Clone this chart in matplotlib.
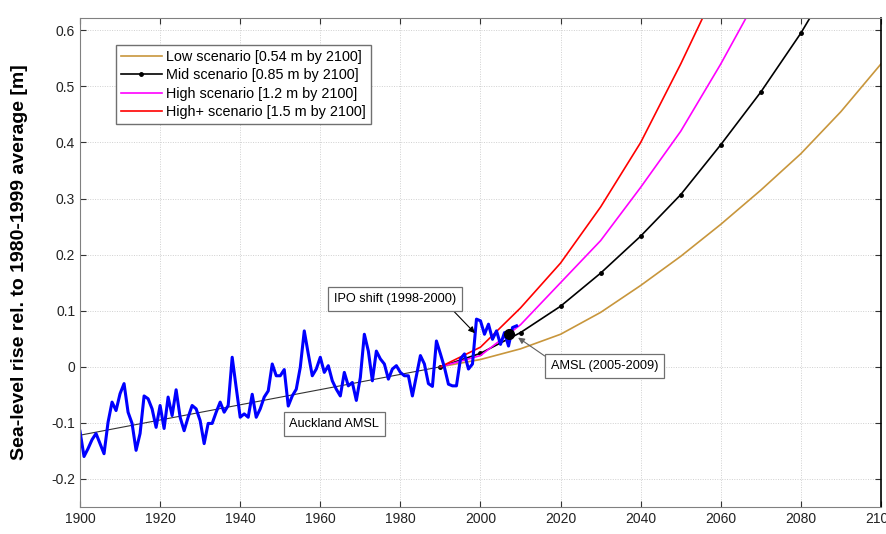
import numpy as np
import matplotlib
matplotlib.use("Agg")
import matplotlib.pyplot as plt

plt.rcParams['font.family'] = ['Liberation Sans', 'DejaVu Sans']

# Auckland annual mean sea level, 1900 onwards [m]
amsl = [-0.115, -0.160, -0.146, -0.130, -0.119, -0.137, -0.155, -0.099, -0.063, -0.078,
        -0.048, -0.030, -0.081, -0.101, -0.149, -0.119, -0.052, -0.057, -0.075, -0.108,
        -0.069, -0.110, -0.054, -0.087, -0.041, -0.090, -0.114, -0.090, -0.069, -0.075,
        -0.096, -0.137, -0.101, -0.101, -0.081, -0.063, -0.081, -0.069, 0.017, -0.037,
        -0.090, -0.084, -0.090, -0.049, -0.090, -0.075, -0.054, -0.043, 0.005, -0.016,
        -0.016, -0.005, -0.070, -0.052, -0.040, -0.001, 0.064, 0.023, -0.016, -0.004,
        0.017, -0.010, 0.002, -0.025, -0.040, -0.052, -0.010, -0.034, -0.028, -0.060,
        -0.019, 0.058, 0.028, -0.025, 0.028, 0.014, 0.005, -0.022, -0.004, 0.002,
        -0.010, -0.016, -0.016, -0.052, -0.016, 0.020, 0.005, -0.030, -0.035, 0.046,
        0.023, -0.001, -0.031, -0.034, -0.034, 0.014, 0.023, -0.004, 0.005, 0.085,
        0.082, 0.058, 0.076, 0.049, 0.064, 0.040, 0.061, 0.037, 0.070, 0.073]
amsl_years = np.arange(1900, 1900 + len(amsl))

# linear trend of the record
trend_years = [1900, 1990]
trend_vals = [-0.122, 0.0]

# projections from 1990
proj_years = [1990, 2000, 2010, 2020, 2030, 2040, 2050, 2060, 2070, 2080, 2090, 2100]
low = [0, 0.013, 0.032, 0.058, 0.097, 0.145, 0.197, 0.254, 0.315, 0.38, 0.455, 0.54]
mid = [0, 0.024, 0.061, 0.108, 0.167, 0.233, 0.307, 0.396, 0.49, 0.595, 0.715, 0.85]
high = [0, 0.02, 0.075, 0.15, 0.225, 0.32, 0.42, 0.54, 0.67, 0.83, 1.0, 1.2]
highp = [0, 0.035, 0.105, 0.185, 0.285, 0.40, 0.54, 0.69, 0.86, 1.05, 1.27, 1.5]

# 2005-2009 mean
amsl_0509_year = 2007
amsl_0509 = 0.058

fig = plt.figure(figsize=(8.86, 5.34), dpi=100)
ax = fig.add_axes([0.0903, 0.0506, 0.904, 0.9157])

ax.plot(proj_years, low, color='#C8963C', lw=1.2, label='Low scenario [0.54 m by 2100]')
ax.plot(proj_years, mid, color='black', lw=1.2, marker='.', ms=5,
        label='Mid scenario [0.85 m by 2100]')
ax.plot(proj_years, high, color='#FF00FF', lw=1.2, label='High scenario [1.2 m by 2100]')
ax.plot(proj_years, highp, color='#FF0000', lw=1.2, label='High+ scenario [1.5 m by 2100]')
ax.plot(trend_years, trend_vals, color='#333333', lw=0.8)
ax.plot(amsl_years, amsl, color='#0000FF', lw=2.2)
ax.plot(amsl_0509_year, amsl_0509, 'o', color='black', ms=7)

box = dict(boxstyle='square,pad=0.45', fc='white', ec='#707070', lw=0.9)
ax.annotate('IPO shift (1998-2000)', xy=(1998.6, 0.060), xytext=(1978.7, 0.121),
            ha='center', va='center', fontsize=9.2, bbox=box,
            arrowprops=dict(arrowstyle='-|>', color='black', lw=0.8,
                            relpos=(0.93, 0.0), shrinkA=0, shrinkB=0))
ax.annotate('AMSL (2005-2009)', xy=(2009.4, 0.052), xytext=(2031, 0.001),
            ha='center', va='center', fontsize=9.2, bbox=box,
            arrowprops=dict(arrowstyle='-|>', color='#606060', lw=0.8,
                            relpos=(0.0, 1.0), shrinkA=0, shrinkB=0))
ax.text(1963.5, -0.102, 'Auckland AMSL', ha='center', va='center', fontsize=9.2, bbox=box)

ax.set_xlim(1900, 2100)
ax.set_ylim(-0.25, 0.622)
ax.set_xticks(np.arange(1900, 2101, 20))
ax.set_yticks(np.arange(-0.2, 0.61, 0.1))
ax.set_yticklabels(['-0.2', '-0.1', '0', '0.1', '0.2', '0.3', '0.4', '0.5', '0.6'])
ax.tick_params(direction='in', top=True, right=True, length=4, width=0.8,
               labelsize=10, colors='#333333', labelcolor='#222222')
ax.grid(True, color='#d0d0d0', lw=0.7, ls=(0, (1, 1.5)))
for s in ['left', 'top', 'bottom']:
    ax.spines[s].set_color('#808080')
ax.spines['right'].set_color('black')
ax.spines['right'].set_linewidth(1.2)

ax.set_ylabel('Sea-level rise rel. to 1980-1999 average [m]', fontsize=14,
              fontweight='bold', labelpad=17)

ax.legend(loc='upper left', bbox_to_anchor=(0.045, 0.945), borderaxespad=0,
          fontsize=10.4, handlelength=2.8, handletextpad=0.3, borderpad=0.35,
          fancybox=False, edgecolor='#707070', framealpha=1, labelspacing=0.3)

fig.savefig('out.png', dpi=100)
